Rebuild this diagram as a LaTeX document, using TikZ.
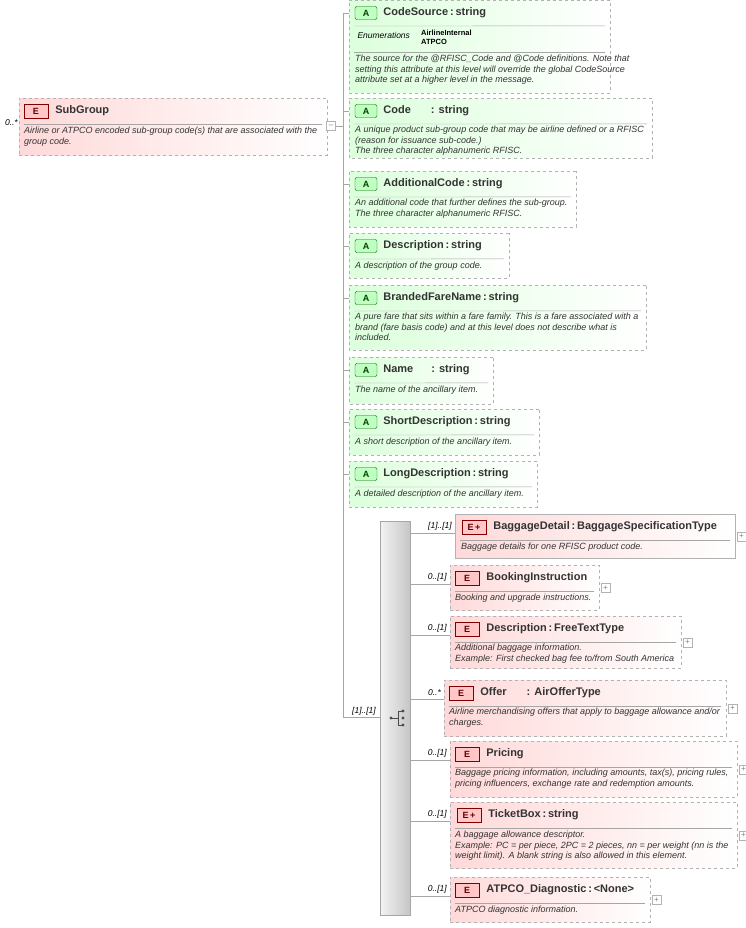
\documentclass[tikz,border=0pt]{standalone}
\usepackage{fontspec}
\setmainfont{Liberation Sans}
\usetikzlibrary{positioning,calc,shapes.misc}

\tikzset{attr/.style = {chamfered rectangle, chamfered rectangle corners={north west,south west}, chamfered rectangle xsep=6pt, chamfered rectangle ysep=6pt,
  draw=gray!60, dashed, left color=green!14, right color=white, shading angle=90, anchor=north west, inner sep=0pt}}
\tikzset{elem/.style = {rectangle, draw=gray!60, dashed, left color=red!15, right color=white, anchor=north west, inner sep=0pt}}
\tikzset{abadge/.style = {rounded corners=2pt, draw=green!40!black, fill=green!25, font=\fontsize{9}{10}\selectfont\bfseries, text=green!25!black, minimum width=22pt, minimum height=13pt, inner sep=0pt}}
\tikzset{ebadge/.style = {draw=red!50!black, fill=red!22, font=\fontsize{9}{10}\selectfont\bfseries, text=red!40!black, minimum width=24pt, minimum height=14pt, inner sep=0pt}}
\tikzset{ttl/.style = {font=\fontsize{11}{12}\selectfont\bfseries, text=black!80, inner sep=0pt}}
\tikzset{desc/.style = {font=\fontsize{9}{10.4}\selectfont\itshape, text=black!80, align=left, anchor=north west, inner sep=0pt}}
\tikzset{card/.style = {font=\fontsize{8.5}{9}\selectfont\itshape, anchor=south east, inner sep=1pt}}
\tikzset{sep/.style = {draw=gray!70}}
\tikzset{link/.style = {draw=gray!70}}
\tikzset{plus/.style = {draw=gray!60, fill=white, minimum size=9pt, inner sep=0pt, font=\fontsize{8}{8}\selectfont, text=gray}}

% attribute box: name, x, y, width, height, title
\newcommand{\attrib}[6]{%
\node[attr, minimum width=#4pt, minimum height=#5pt] (#1) at (#2,#3) {};
\node[abadge] (#1-b) at ($(#1.north west)+(17,13)$) {A};
\node[ttl, right=6pt of #1-b] (#1-t) {#6};
\draw[sep] ($(#1.north west)+(5,26)$) -- ($(#1.north east)+(-5,26)$);
}
% element box: name, x, y, width, height, title, badge
\newcommand{\elem}[7]{%
\node[elem, minimum width=#4pt, minimum height=#5pt] (#1) at (#2,#3) {};
\node[ebadge] (#1-b) at ($(#1.north west)+(#7,13)$) {E};
\node[ttl, right=7pt of #1-b] (#1-t) {#6};
\draw[sep] ($(#1.north west)+(5,26)$) -- ($(#1.north east)+(-5,26)$);
}

\begin{document}
\begin{tikzpicture}[x=1pt, y=-1pt]
\useasboundingbox (0,0) rectangle (746,928);

% root element
\elem{sg}{19}{98}{308}{57}{SubGroup}{17}
\node[desc] at ($(sg.north west)+(5,29)$) {Airline or ATPCO encoded sub-group code(s) that are associated with the\\group code.};
\node[card, anchor=east] (sgc) at ($(sg.west)+(0,-4)$) {0..*};
\node[plus, draw=gray!60] (sgm) at (331,126) {--};

% attributes
\attrib{cs}{349}{0}{261}{93}{CodeSource\,:\,string}
\node[font=\fontsize{8.5}{9}\selectfont\itshape, anchor=west] (cse) at (354,35) {Enumerations};
\node[font=\fontsize{7.5}{9}\selectfont\bfseries, anchor=north west, align=left, inner sep=0pt] (csv) at (421,30) {AirlineInternal\\ATPCO};
\draw[sep] (354,52) -- (605,52);
\node[desc] at (355,55) {The source for the @RFISC\_Code and @Code definitions. Note that\\setting this attribute at this level will override the global CodeSource\\attribute set at a higher level in the message.};

\attrib{co}{349}{98}{303}{60}{Code\hspace{20pt}: string}
\node[desc] at ($(co.north west)+(6,28)$) {A unique product sub-group code that may be airline defined or a RFISC\\(reason for issuance sub-code.)\\The three character alphanumeric RFISC.};

\attrib{ac}{349}{171}{227}{56}{AdditionalCode\,:\,string}
\node[desc] at ($(ac.north west)+(6,28)$) {An additional code that further defines the sub-group.\\The three character alphanumeric RFISC.};

\attrib{de}{349}{233}{160}{45}{Description\,:\,string}
\node[desc] at ($(de.north west)+(6,29)$) {A description of the group code.};

\attrib{bf}{349}{285}{297}{65}{BrandedFareName\,:\,string}
\node[desc] at ($(bf.north west)+(6,28)$) {A pure fare that sits within a fare family. This is a fare associated with a\\brand (fare basis code) and at this level does not describe what is\\included.};

\attrib{na}{349}{357}{144}{47}{Name\hspace{18pt}: string}
\node[desc] at ($(na.north west)+(6,29)$) {The name of the ancillary item.};

\attrib{sd}{349}{409}{190}{46}{ShortDescription\,:\,string}
\node[desc] at ($(sd.north west)+(6,29)$) {A short description of the ancillary item.};

\attrib{ld}{349}{461}{188}{46}{LongDescription\,:\,string}
\node[desc] at ($(ld.north west)+(6,29)$) {A detailed description of the ancillary item.};

% sequence
\node[draw=gray!70, left color=gray!10, right color=gray!45, shading angle=90, minimum width=30pt, minimum height=394pt, anchor=north west, inner sep=0pt] (seq) at (380,521) {};
\coordinate (sq) at (391,718);
\fill[black!70] (sq) circle (1.7pt);
\draw[black!70] (sq) -- ++(7,0) (398,711) -- (398,725) (398,711) -- (403,711) (398,725) -- (403,725);
\foreach \yy in {711,718,725} \fill[black!70] (403,\yy) circle (1.7pt);

% connectors
\coordinate (tr) at (343,126);
\draw[link] (sgm) -- (tr);
\draw[link] (343,13) -- (343,717);
\foreach \n in {cs,co,ac,de,bf,na,sd,ld} \draw[link] (\n-b -| 343,0) -- (\n-b -| \n.west);
\draw[link] (343,717) -- (seq.west |- 0,717);
\node[card] at (377,716) {[1]..[1]};

% children
\node[rectangle, draw=gray!60, left color=red!15, right color=white, anchor=north west, minimum width=280pt, minimum height=44pt, inner sep=0pt] (bd) at (455,514) {};
\node[ebadge] (bd-b) at ($(bd.north west)+(19,13)$) {E\,\textbf{+}};
\node[ttl, right=7pt of bd-b] (bd-t) {BaggageDetail\,:\,BaggageSpecificationType};
\draw[sep] ($(bd.north west)+(5,26)$) -- ($(bd.north east)+(-5,26)$);
\node[desc] at ($(bd.north west)+(6,29)$) {Baggage details for one RFISC product code.};

\elem{bi}{450}{565}{149}{45}{BookingInstruction}{17}
\node[desc] at ($(bi.north west)+(5,29)$) {Booking and upgrade instructions.};

\elem{ds}{450}{616}{231}{52}{Description\,:\,FreeTextType}{17}
\node[desc] at ($(ds.north west)+(5,28)$) {Additional baggage information.\\Example: First checked bag fee to/from South America};

\elem{of}{444}{680}{282}{56}{Offer\hspace{20pt}: AirOfferType}{17}
\node[desc] at ($(of.north west)+(5,28)$) {Airline merchandising offers that apply to baggage allowance and/or\\charges.};

\elem{pr}{450}{741}{287}{56}{Pricing}{17}
\node[desc] at ($(pr.north west)+(5,28)$) {Baggage pricing information, including amounts, tax(s), pricing rules,\\pricing influencers, exchange rate and redemption amounts.};

\node[elem, minimum width=287pt, minimum height=66pt] (tb) at (450,802) {};
\node[ebadge] (tb-b) at ($(tb.north west)+(19,13)$) {E\,\textbf{+}};
\node[ttl, right=7pt of tb-b] (tb-t) {TicketBox\,:\,string};
\draw[sep] ($(tb.north west)+(5,26)$) -- ($(tb.north east)+(-5,26)$);
\node[desc] at ($(tb.north west)+(5,29)$) {A baggage allowance descriptor.\\Example: PC = per piece, 2PC = 2 pieces, nn = per weight (nn is the\\weight limit). A blank string is also allowed in this element.};

\elem{ad}{450}{877}{200}{45}{ATPCO\_Diagnostic\,:\,<None>}{17}
\node[desc] at ($(ad.north west)+(5,29)$) {ATPCO diagnostic information.};

% child connectors, cardinalities, expanders
\foreach \n/\c in {bd/{[1]..[1]}, bi/{0..[1]}, ds/{0..[1]}, of/{0..*}, pr/{0..[1]}, tb/{0..[1]}, ad/{0..[1]}} {
  \draw[link] (seq.east |- \n-b) ++(0,6) -- ($(\n-b -| \n.west)+(0,6)$);
  \node[card] at ($(\n-b -| \n.west)+(-2,4)$) {\c};
  \node[plus] at ($(\n.east |- \n.center)+(6,0)$) {+};
}
\end{tikzpicture}
\end{document}
